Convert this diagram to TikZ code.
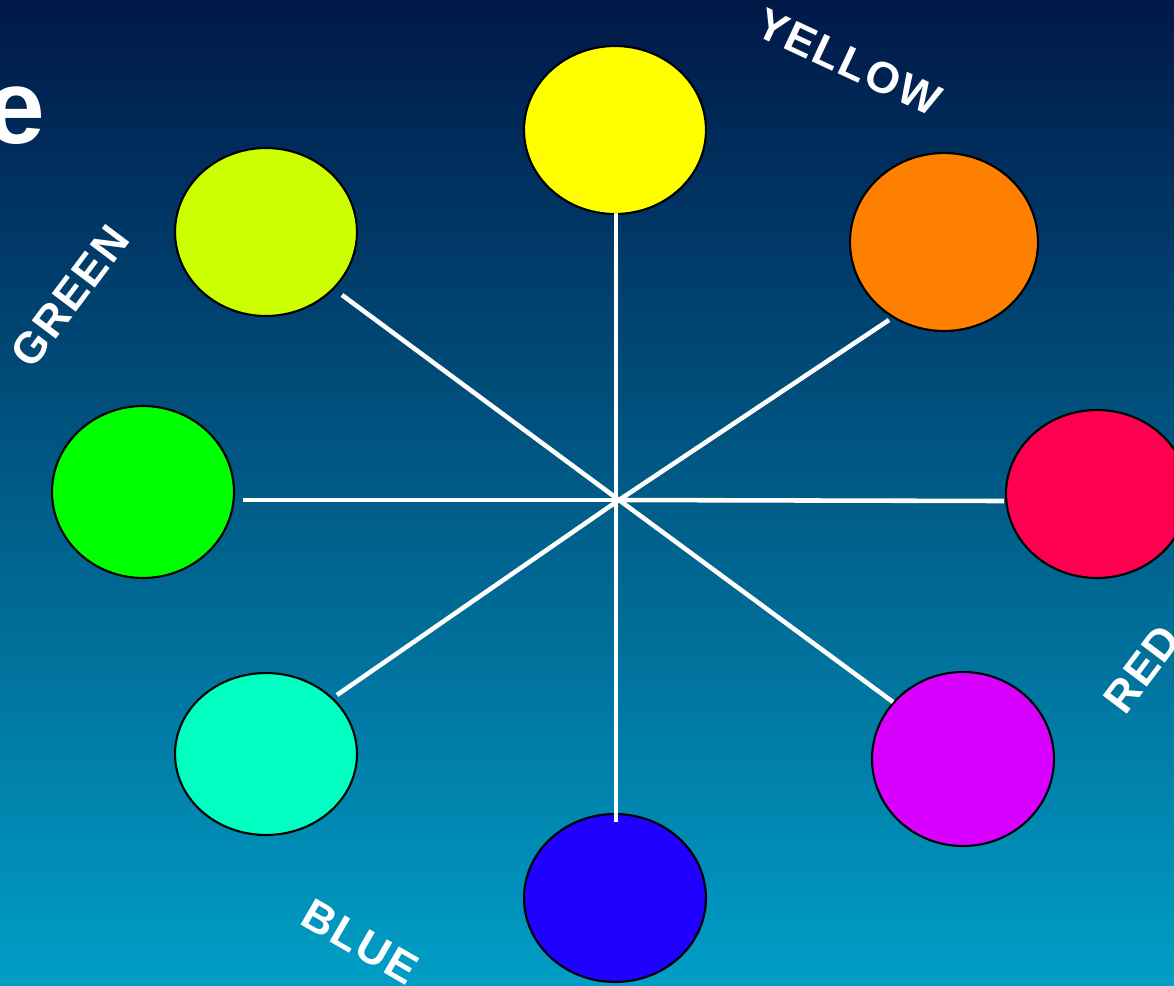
\documentclass[tikz,border=0pt]{standalone}
\usepackage{fontspec}
\setmainfont{Liberation Sans}
\newfontfamily\labelfont[LetterSpace=4]{Liberation Sans}
\usetikzlibrary{shapes.geometric}
\definecolor{bgtop}{HTML}{001848}
\definecolor{bgbot}{HTML}{009EC6}
\definecolor{cyellow}{HTML}{FFFF00}
\definecolor{corange}{HTML}{FF8000}
\definecolor{cred}{HTML}{FF0050}
\definecolor{cmagenta}{HTML}{D800FF}
\definecolor{cblue}{HTML}{2000FF}
\definecolor{caqua}{HTML}{00FFC0}
\definecolor{cgreen}{HTML}{00FF00}
\definecolor{cyellowgreen}{HTML}{CCFF00}
\tikzset{
  ball/.style={ellipse, draw=black, line width=1.2pt, minimum width=3.64cm, minimum height=3.36cm, inner sep=0pt},
  spoke/.style={draw=white, line width=2.6pt},
  huelabel/.style={text=white, font=\labelfont\bfseries\fontsize{25}{25}\selectfont, inner sep=0pt}
}
\begin{document}
\begin{tikzpicture}[x=0.02cm, y=-0.02cm]
    % background
    \useasboundingbox (0,0) rectangle (1174,985);
    \shade[top color=bgtop, bottom color=bgbot] (0,0) rectangle (1174,985);
    \node[anchor=base west, inner sep=0pt, text=white, font=\bfseries\fontsize{60}{60}\selectfont] (title) at (-14,143) {e};

    % colour circles
    \node[ball, fill=cyellow] (yellow) at (615,130) {};
    \node[ball, fill=corange, minimum width=3.76cm, minimum height=3.56cm] (orange) at (944,242) {};
    \node[ball, fill=cred] (red) at (1097,494) {};
    \node[ball, fill=cmagenta, minimum height=3.48cm] (magenta) at (963,759) {};
    \node[ball, fill=cblue] (blue) at (615,898) {};
    \node[ball, fill=caqua, minimum height=3.24cm] (aqua) at (266,754) {};
    \node[ball, fill=cgreen, minimum height=3.44cm] (green) at (143,492) {};
    \node[ball, fill=cyellowgreen] (yellowgreen) at (266,232) {};

    % spokes
    \coordinate (hub) at (619,500);
    \coordinate (e1) at (616,213);
    \coordinate (e2) at (889,320);
    \coordinate (e3) at (1004,501);
    \coordinate (e4) at (893,702);
    \coordinate (e5) at (616,822);
    \coordinate (e6) at (337,695);
    \coordinate (e7) at (243,500);
    \coordinate (e8) at (342,295);
    \draw[spoke] (e1) -- (e5);
    \foreach \e in {e2,e3,e4,e6,e7,e8} {
        \draw[spoke] (hub) -- (\e);
    }

    % labels
    \node[huelabel, rotate=-25] (lyellow) at (849,62) {YELLOW};
    \node[huelabel, rotate=53] (lgreen) at (70,296) {GREEN};
    \node[huelabel, rotate=53] (lred) at (1142,669) {RED};
    \node[huelabel, rotate=-30] (lblue) at (360,942) {BLUE};
\end{tikzpicture}
\end{document}
